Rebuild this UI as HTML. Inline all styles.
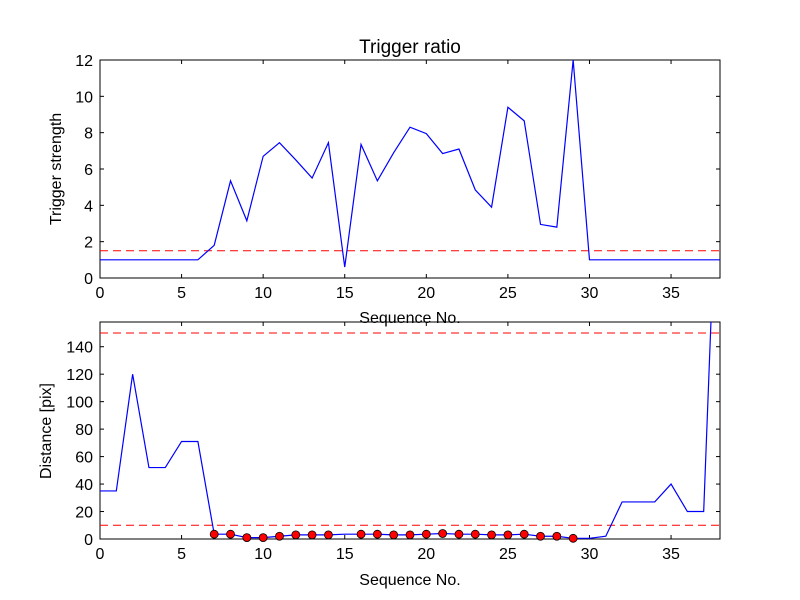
<!DOCTYPE html>
<html><head><meta charset="utf-8"><style>
body{margin:0;background:#fff;}
svg{display:block;font-family:"Liberation Sans","DejaVu Sans",sans-serif;}
</style></head><body>
<svg id="fig" width="800" height="600" viewBox="0 0 800 600" xmlns="http://www.w3.org/2000/svg">
<rect width="800" height="600" fill="#fff"/>
<defs>
<clipPath id="c1"><rect x="100" y="60" width="620" height="218"/></clipPath>
<clipPath id="c2"><rect x="100" y="322" width="620" height="218"/></clipPath>
</defs>
<g id="top"></g><g id="bot"></g>
</svg>
<script>
const seqTop = [0,1,2,3,4,5,6,7,8,9,10,11,12,13,14,15,16,17,18,19,20,21,22,23,24,25,26,27,28,29,30,31,32,33,34,35,36,37,38];
const triggerStrength = [1,1,1,1,1,1,1,1.8,5.35,3.15,6.7,7.45,6.5,5.5,7.45,0.6,7.35,5.35,6.9,8.3,7.95,6.85,7.1,4.85,3.9,9.4,8.65,2.95,2.8,12,1,1,1,1,1,1,1,1,1];
const triggerThreshold = 1.5;
const distance = [35,35,120,52,52,71,71,3.5,3.5,1,1,2,3,3,3,3.5,3.5,3.5,3,3,3.5,4,3.5,3.5,3,3,3.5,2,2,0.5,0.5,2,27,27,27,40,20,20,330];
const markerSeq = [7,8,9,10,11,12,13,14,16,17,18,19,20,21,22,23,24,25,26,27,28,29];
const distThresholds = [10,150];
const xTicks = [0,5,10,15,20,25,30,35];
const yTicksTop = [0,2,4,6,8,10,12];
const yTicksBot = [0,20,40,60,80,100,120,140];

const NS="http://www.w3.org/2000/svg";
function mk(parent,tag,attrs){const e=document.createElementNS(NS,tag);for(const k in attrs)e.setAttribute(k,attrs[k]);parent.appendChild(e);return e;}
const X0=100,X1=720;
const xs=v=>X0+(v-0)/(38-0)*(X1-X0);

function panel(g,top,bottom,ymax,yticks,clip,name){
  const ys=v=>bottom-(v/ymax)*(bottom-top);
  const frame=mk(g,'rect',{x:X0,y:top,width:X1-X0,height:bottom-top,fill:'none',stroke:'#000','stroke-width':1});
  
  
  xTicks.forEach(t=>{
    const x=xs(t);
    mk(g,'line',{x1:x,x2:x,y1:bottom,y2:bottom-4,stroke:'#000'});
    mk(g,'line',{x1:x,x2:x,y1:top,y2:top+4,stroke:'#000'});
    const tx=mk(g,'text',{x:x,y:bottom+20,'text-anchor':'middle','font-size':16,fill:'#000'});
    tx.textContent=t;
    
    
  });
  yticks.forEach(t=>{
    const y=ys(t);
    mk(g,'line',{x1:X0,x2:X0+4,y1:y,y2:y,stroke:'#000'});
    mk(g,'line',{x1:X1,x2:X1-4,y1:y,y2:y,stroke:'#000'});
    const tx=mk(g,'text',{x:X0-7,y:y+6,'text-anchor':'end','font-size':16,fill:'#000'});
    tx.textContent=t;
    
    
  });
  return ys;
}

const gt=document.getElementById('top');
const ysT=panel(gt,60,278,12,yTicksTop,'c1','top');
const thr=mk(gt,'line',{x1:X0,x2:X1,y1:ysT(triggerThreshold),y2:ysT(triggerThreshold),stroke:'#f00','stroke-dasharray':'8,5','stroke-width':1});


const lt=mk(gt,'polyline',{points:seqTop.map((s,i)=>xs(s)+','+ysT(triggerStrength[i])).join(' '),fill:'none',stroke:'#00f','stroke-width':1.2,'clip-path':'url(#c1)'});


let t=mk(gt,'text',{x:410,y:53,'text-anchor':'middle','font-size':19});t.textContent='Trigger ratio';


t=mk(gt,'text',{x:410,y:323,'text-anchor':'middle','font-size':16});t.textContent='Sequence No.';


t=mk(gt,'text',{x:61,y:169,'text-anchor':'middle','font-size':16,transform:'rotate(-90 61 169)'});t.textContent='Trigger strength';



const gb=document.getElementById('bot');
const ysB=panel(gb,322,539,158,yTicksBot,'c2','bottom');
distThresholds.forEach(v=>{
  const l=mk(gb,'line',{x1:X0,x2:X1,y1:ysB(v),y2:ysB(v),stroke:'#f00','stroke-dasharray':'8,5','stroke-width':1});
  
  
});
const lb=mk(gb,'polyline',{points:seqTop.map((s,i)=>xs(s)+','+ysB(distance[i])).join(' '),fill:'none',stroke:'#00f','stroke-width':1.2,'clip-path':'url(#c2)'});


markerSeq.forEach(s=>{
  const c=mk(gb,'circle',{cx:xs(s),cy:ysB(distance[s]),r:4,fill:'#f00',stroke:'#000','stroke-width':0.8});
  
  
});
t=mk(gb,'text',{x:410,y:585,'text-anchor':'middle','font-size':16});t.textContent='Sequence No.';


t=mk(gb,'text',{x:51,y:431,'text-anchor':'middle','font-size':16,transform:'rotate(-90 51 431)'});t.textContent='Distance [pix]';


</script>
</body></html>
